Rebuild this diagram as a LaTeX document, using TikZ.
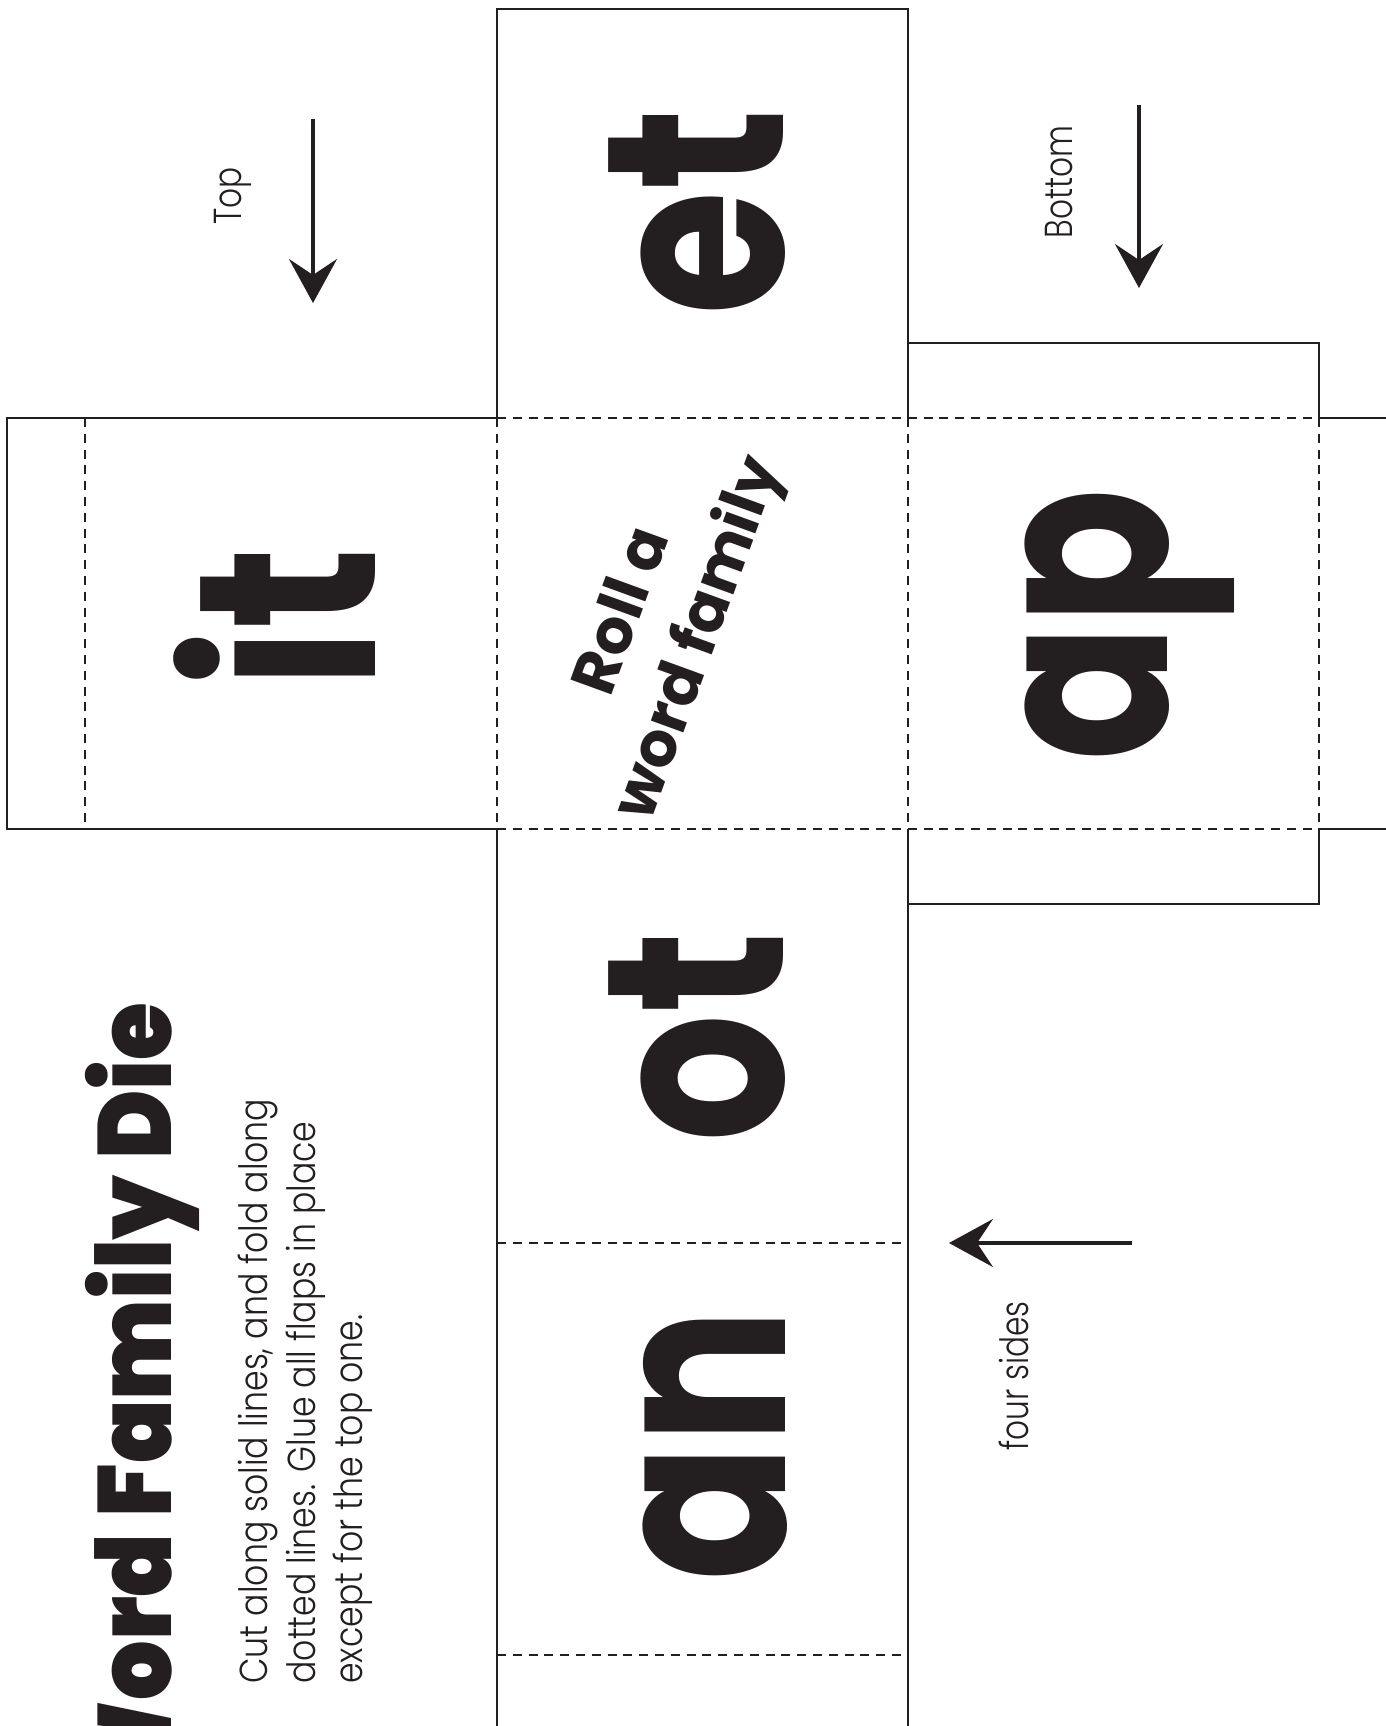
\documentclass[tikz,border=0pt]{standalone}
\usepackage{fontspec}
\usetikzlibrary{arrows.meta}
\newfontfamily\diefont{Poppins Bold}[FakeStretch=0.8]
\newfontfamily\titlefont{Poppins Black}[FakeStretch=0.9]
\newfontfamily\notefont{Poppins Light}[FakeStretch=0.85]
\newfontfamily\labelfont{Poppins Light}[FakeStretch=0.8]
\newfontfamily\rollfont{Poppins Bold}
\definecolor{inkdark}{RGB}{35,31,32}
\tikzset{
  cutline/.style={line width=1pt, draw=inkdark},
  foldline/.style={line width=1.1pt, draw=inkdark, dash pattern=on 4.5pt off 3.4pt},
  facetext/.style={rotate=90, inner sep=0pt, text=inkdark,
    font=\diefont\fontsize{126}{126}\selectfont},
  rolltext/.style={rotate=70, inner sep=0pt, text=inkdark, align=center,
    font=\rollfont\fontsize{31}{40}\selectfont},
  titletext/.style={rotate=90, inner sep=0pt, text=inkdark,
    font=\titlefont\fontsize{52}{52}\selectfont},
  notetext/.style={rotate=90, inner sep=0pt, text=inkdark,
    font=\notefont\fontsize{19.5}{23.75}\selectfont},
  labeltext/.style={rotate=90, inner sep=0pt, text=inkdark,
    font=\labelfont\fontsize{19.5}{23.75}\selectfont},
  pointer/.style={line width=1.6pt, draw=inkdark,
    -{Stealth[length=22pt, width=24pt, inset=8pt]}}
}

\begin{document}
\begin{tikzpicture}[x=0.5pt, y=-0.5pt]
  \useasboundingbox (0,0) rectangle (1386,1726);

  % Cut lines
  \draw[cutline] (497,418) -- (7,418) -- (7,829) -- (497,829);
  \draw[cutline] (497,418) -- (497,9) -- (908,9) -- (908,418);
  \draw[cutline] (908,343) -- (1319,343) -- (1319,418) -- (1386,418);
  \draw[cutline] (908,904) -- (1319,904) -- (1319,829) -- (1386,829);
  \draw[cutline] (497,829) -- (497,1726);
  \draw[cutline] (908,829) -- (908,1726);

  % Fold lines
  \draw[foldline] (497,418) -- (1319,418);
  \draw[foldline] (497,829) -- (1319,829);
  \foreach \x in {85,497,908,1319}
    \draw[foldline] (\x,418) -- (\x,829);
  \foreach \y in {1243,1655}
    \draw[foldline] (497,\y) -- (908,\y);

  % Faces
  \node[facetext] (face-et) at (697,212) {et};
  \node[facetext] (face-it) at (275,618) {it};
  \node[facetext] (face-ap) at (1130,625) {ap};
  \node[facetext] (face-ot) at (697,1037) {ot};
  \node[facetext] (face-an) at (715,1445) {an};
  \node[rolltext] (roll) at (664,626) {Roll a\\word family};

  % Title and notes
  \node[titletext, anchor=base east] (title) at (171,1002) {Word Family Die};
  \node[notetext, align=left, anchor=north west] (howto) at (238,1684)
    {Cut along solid lines, and fold along\\dotted lines. Glue all flaps in place\\except for the top one.};
  \node[labeltext] (lbl-top) at (233,196) {Top};
  \node[labeltext] (lbl-bottom) at (1059,182) {Bottom};
  \node[labeltext] (lbl-sides) at (1014,1376) {four sides};

  % Pointers
  \coordinate (top-tail) at (313,119);
  \coordinate (top-tip) at (313,303);
  \coordinate (bottom-tail) at (1139,105);
  \coordinate (bottom-tip) at (1139,288);
  \coordinate (sides-tail) at (1132,1243);
  \coordinate (sides-tip) at (949,1243);
  \draw[pointer] (top-tail) -- (top-tip);
  \draw[pointer] (bottom-tail) -- (bottom-tip);
  \draw[pointer] (sides-tail) -- (sides-tip);
\end{tikzpicture}
\end{document}
